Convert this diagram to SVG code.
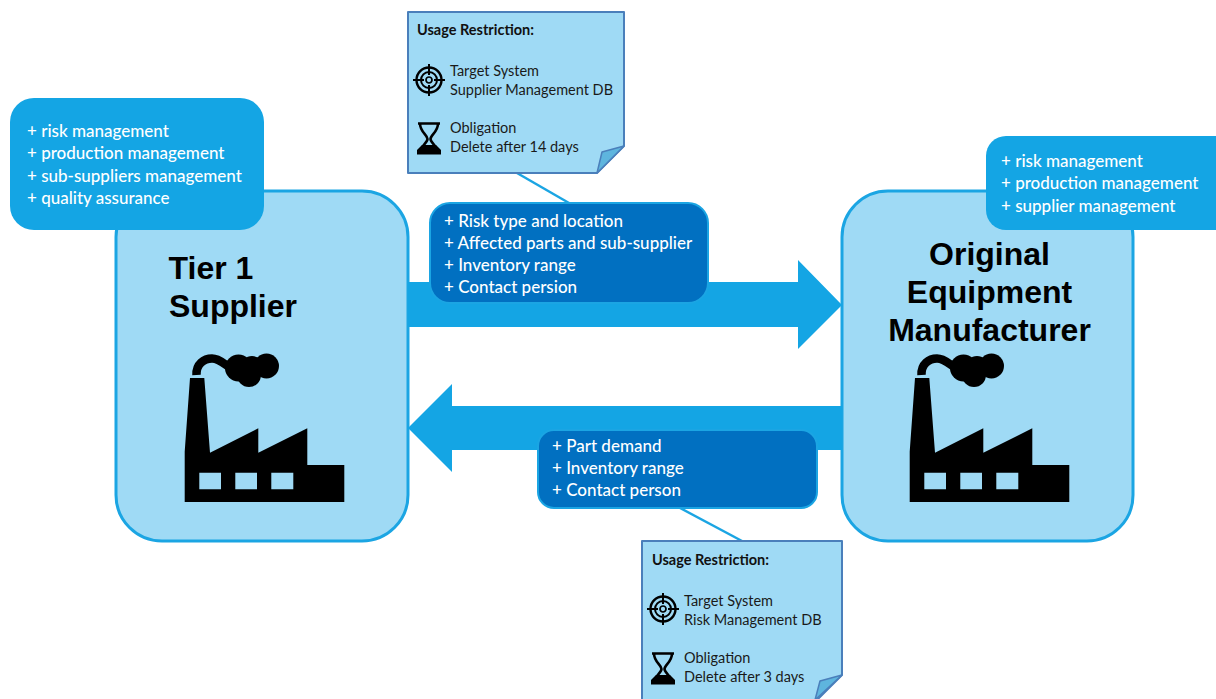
<svg xmlns="http://www.w3.org/2000/svg" xmlns:xlink="http://www.w3.org/1999/xlink" width="1216" height="699" viewBox="0 0 1216 699">
<style>
.t{font-family:"Lato","Carlito","Open Sans",sans-serif;font-size:17px}
.w{fill:#fff;font-weight:500}
.k{fill:#1a1a1a;font-size:14.5px}
.kb{fill:#111;font-size:14.5px;font-weight:700}
.h{font-family:"Liberation Sans",Arial,sans-serif;font-weight:700;font-size:32px;fill:#000;text-anchor:middle}
.big{fill:#9fdaf5;stroke:#1ba5e3;stroke-width:3}
.skill{fill:#14a5e4}
.dark{fill:#0170c1;stroke:#1ba5e3;stroke-width:2}
.note{fill:#9fdaf5;stroke:#4a7fbb;stroke-width:2;stroke-linejoin:round}
.fold{fill:#5eb5de;stroke:#4a7fbb;stroke-width:1.5;stroke-linejoin:round}
.arrow{fill:#14a5e4}
.link{stroke:#1ba5e3;stroke-width:2.5;fill:none}
</style>
<defs>
<g id="factory">
<path fill="#000" d="M190 378H204.3L210 452.7L258.3 428.3V452.7L307.3 428.3V465H344.3V502H184.7V451.7Z"/>
<path fill="#9fdaf5" d="M199.3 472.7H221V489.3H199.3ZM235.3 472.7H257V489.3H235.3ZM271.3 472.7H293.3V489.3H271.3Z"/>
<path fill="none" stroke="#000" stroke-width="8.5" d="M196.5 375C196 364 204 358.5 212 358.5C222 358.5 226 368 238 371"/>
<circle cx="238.5" cy="368" r="13.5"/><circle cx="249" cy="375" r="12"/><circle cx="266.5" cy="366" r="12.5"/><circle cx="252" cy="367" r="11"/>
</g>
<g id="target" fill="none" stroke="#000">
<circle r="12.5" stroke-width="2.4"/><circle r="8" stroke-width="2"/><circle r="3" stroke-width="1.7"/>
<path stroke-width="2" d="M0-16V-5M0 5V16M-16 0H-5M5 0H16"/>
</g>
<g id="glass">
<path fill="none" stroke="#000" stroke-width="2.6" d="M-11-15.5H11M-9-15.5C-9-7-1.5-4-1.5 0C-1.5 4-9 7-9 15M9-15.5C9-7 1.5-4 1.5 0C1.5 4 9 7 9 15"/>
<path d="M-12 15.5H12V11L7 6H-7L-12 11Z"/>
</g>
</defs>
<g id="connectors">
<path class="link" d="M517 173L569 203"/>
<path class="link" d="M680 508L742 541"/>
</g>
<g id="tier1">
<rect class="big" x="116" y="191" width="292" height="350" rx="46"/>
<text class="h"><tspan x="211" y="278.500">Tier 1</tspan><tspan x="233" y="316.500">Supplier</tspan></text>
<use href="#factory"/>
</g>
<g id="oem">
<rect class="big" x="842" y="191" width="291" height="350" rx="46"/>
<text class="h"><tspan x="989.5" y="265">Original</tspan><tspan x="989.5" y="303">Equipment</tspan><tspan x="989.5" y="341">Manufacturer</tspan></text>
<use href="#factory" x="725"/>
</g>
<g id="arrow-forward"><path class="arrow" d="M408 282H798V260L842 305L798 349V327H408Z"/></g>
<g id="arrow-back"><path class="arrow" d="M842 406H452V384L408 428L452 472V450H842Z"/></g>
<g id="tier1-capabilities">
<rect class="skill" x="10" y="98" width="254" height="132" rx="24"/>
<text class="t w"><tspan x="27" y="136.500">+ risk management</tspan><tspan x="27" y="158.500">+ production management</tspan><tspan x="27" y="181.500">+ sub-suppliers management</tspan><tspan x="27" y="203.500">+ quality assurance</tspan></text>
</g>
<g id="oem-capabilities">
<rect class="skill" x="986" y="136" width="250" height="94" rx="20"/>
<text class="t w"><tspan x="1001" y="166.500">+ risk management</tspan><tspan x="1001" y="189">+ production management</tspan><tspan x="1001" y="211.500">+ supplier management</tspan></text>
</g>
<g id="forward-data">
<rect class="dark" x="430" y="203" width="278" height="100" rx="20"/>
<text class="t w"><tspan x="444" y="226.500">+ Risk type and location</tspan><tspan x="444" y="248.500">+ Affected parts and sub-supplier</tspan><tspan x="444" y="271">+ Inventory range</tspan><tspan x="444" y="293">+ Contact persion</tspan></text>
</g>
<g id="back-data">
<rect class="dark" x="538" y="430" width="279" height="78" rx="16"/>
<text class="t w"><tspan x="552" y="451.500">+ Part demand</tspan><tspan x="552" y="474">+ Inventory range</tspan><tspan x="552" y="496">+ Contact person</tspan></text>
</g>
<g id="note-top">
<path class="note" d="M408 12H624V146L597 173H408Z"/>
<path class="fold" d="M624 146L602 152L597 173Z"/>
<text class="t kb" x="417" y="35">Usage Restriction:</text>
<use href="#target" x="429" y="80"/>
<text class="t k"><tspan x="450" y="76">Target System</tspan><tspan x="450" y="95">Supplier Management DB</tspan></text>
<use href="#glass" x="429" y="139"/>
<text class="t k"><tspan x="450" y="133">Obligation</tspan><tspan x="450" y="152">Delete after 14 days</tspan></text>
</g>
<g id="note-bottom">
<path class="note" d="M642 541H842V675L817 700H642Z"/>
<path class="fold" d="M842 675L820 681L815 700Z"/>
<text class="t kb" x="652" y="565">Usage Restriction:</text>
<use href="#target" x="663" y="609"/>
<text class="t k"><tspan x="684" y="606">Target System</tspan><tspan x="684" y="625">Risk Management DB</tspan></text>
<use href="#glass" x="663" y="669"/>
<text class="t k"><tspan x="684" y="663">Obligation</tspan><tspan x="684" y="682">Delete after 3 days</tspan></text>
</g>
</svg>
